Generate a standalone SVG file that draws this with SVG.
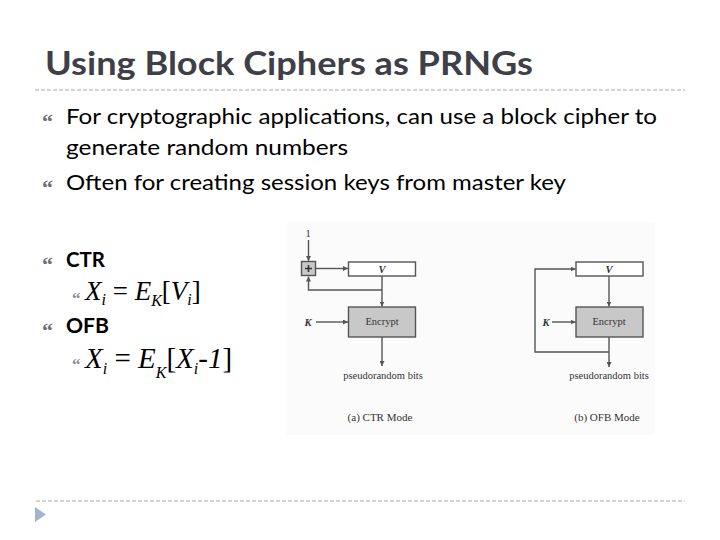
<svg xmlns="http://www.w3.org/2000/svg" width="720" height="540" viewBox="0 0 720 540">
<defs>
<style>
.title{font-family:Lato,"Open Sans","Liberation Sans",sans-serif;font-weight:bold;font-size:33px;fill:#3f3f48}
.body{font-family:Lato,"Open Sans","Liberation Sans",sans-serif;font-size:21px;fill:#000}
.bold{font-weight:bold}
.bul{font-family:"Liberation Serif",serif;font-weight:bold;font-size:22px;fill:#6e6e7a}
.bul2{font-family:"Liberation Serif",serif;font-weight:bold;font-size:17px;fill:#8a8a96}
.math{font-family:"Liberation Serif",serif;font-style:italic;font-size:27px;fill:#000}
.sub{font-size:16px}
.dash{stroke:#a8a8a8;stroke-width:1;stroke-dasharray:4 2;fill:none}
.ln{stroke:#555;stroke-width:1.4;fill:none}
.box{stroke:#555;stroke-width:1.4}
.dt{font-family:"Liberation Serif",serif;font-size:10.5px;fill:#333;text-anchor:middle}
.cap{font-family:"Liberation Serif",serif;font-size:11px;fill:#333;text-anchor:middle}
.var{font-family:"Liberation Serif",serif;font-style:italic;font-weight:bold;font-size:10.5px;fill:#333;text-anchor:middle}
</style>
<marker id="ah" viewBox="0 0 10 10" refX="10" refY="5" markerWidth="5" markerHeight="5" orient="auto" markerUnits="userSpaceOnUse">
<path d="M0,0 L10,5 L0,10 z" fill="#555"/>
</marker>
</defs>
<rect width="720" height="540" fill="#fff"/>
<g id="header">
<text class="title" x="45" y="75" textLength="488" lengthAdjust="spacingAndGlyphs">Using Block Ciphers as PRNGs</text>
<line class="dash" x1="35" y1="90" x2="685" y2="90"/>
</g>
<g id="bullets">
<text class="bul" x="42" y="129">“</text>
<text class="body" x="66" y="124" textLength="591" lengthAdjust="spacingAndGlyphs">For cryptographic applications, can use a block cipher to</text>
<text class="body" x="66" y="155" textLength="282" lengthAdjust="spacingAndGlyphs">generate random numbers</text>
<text class="bul" x="42" y="195">“</text>
<text class="body" x="66" y="190" textLength="500" lengthAdjust="spacingAndGlyphs">Often for creating session keys from master key</text>
<text class="bul" x="42" y="272">“</text>
<text class="body bold" x="66" y="267" textLength="39" lengthAdjust="spacingAndGlyphs">CTR</text>
<text class="bul2" x="72" y="304">“</text>
<text class="math" x="85" y="300">X<tspan class="sub" dy="5">i</tspan><tspan dy="-5" style="font-style:normal"> = </tspan>E<tspan class="sub" dy="6">K</tspan><tspan dy="-6" style="font-style:normal">[</tspan>V<tspan class="sub" dy="5">i</tspan><tspan dy="-5" style="font-style:normal">]</tspan></text>
<text class="bul" x="42" y="338">“</text>
<text class="body bold" x="66" y="333" textLength="43" lengthAdjust="spacingAndGlyphs">OFB</text>
<text class="bul2" x="72" y="370">“</text>
<text class="math" x="85" y="368" style="font-size:29px">X<tspan class="sub" dy="6">i</tspan><tspan dy="-6" style="font-style:normal"> = </tspan>E<tspan class="sub" dy="10">K</tspan><tspan dy="-10" style="font-style:normal">[</tspan>X<tspan class="sub" dy="6">i</tspan><tspan dy="-6">-1</tspan><tspan style="font-style:normal">]</tspan></text>
</g>
<rect x="287" y="222" width="368" height="213" fill="#fbfbfb"/>
<g id="ctr-one"><text class="dt" x="308" y="237">1</text></g>
<g id="ctr-plus"><rect class="box" x="301.5" y="261.5" width="14" height="14" fill="#c8c8c8"/><path d="M305,268.5 H312 M308.5,265 V272" stroke="#333" stroke-width="1.6"/></g>
<g id="ctr-v"><rect class="box" x="348.5" y="262" width="67" height="14" fill="#fff"/><text class="var" x="382" y="272.5">V</text></g>
<g id="ctr-encrypt"><rect class="box" x="348.5" y="307" width="67" height="30" fill="#c8c8c8"/><text class="dt" x="382" y="325">Encrypt</text></g>
<g id="ctr-k"><text class="var" x="308" y="325.5">K</text></g>
<g id="ctr-out"><text class="dt" x="383" y="379">pseudorandom bits</text></g>
<g id="ctr-caption"><text class="cap" x="380" y="421">(a) CTR Mode</text></g>
<g id="ofb-v"><rect class="box" x="576" y="262" width="67" height="14" fill="#fff"/><text class="var" x="609" y="272.5">V</text></g>
<g id="ofb-encrypt"><rect class="box" x="576" y="307" width="67" height="30" fill="#c8c8c8"/><text class="dt" x="609" y="325">Encrypt</text></g>
<g id="ofb-k"><text class="var" x="546" y="325.5">K</text></g>
<g id="ofb-out"><text class="dt" x="609" y="379">pseudorandom bits</text></g>
<g id="ofb-caption"><text class="cap" x="607" y="421">(b) OFB Mode</text></g>
<g id="connectors">
<line class="ln" x1="308.5" y1="240" x2="308.5" y2="261" marker-end="url(#ah)"/>
<line class="ln" x1="316" y1="268.5" x2="348" y2="268.5" marker-end="url(#ah)"/>
<line class="ln" x1="382" y1="276" x2="382" y2="306.5" marker-end="url(#ah)"/>
<polyline class="ln" points="382,290 308.5,290 308.5,276.5" marker-end="url(#ah)"/>
<line class="ln" x1="316" y1="322" x2="348" y2="322" marker-end="url(#ah)"/>
<line class="ln" x1="382" y1="337" x2="382" y2="366" marker-end="url(#ah)"/>
<line class="ln" x1="609" y1="276" x2="609" y2="306.5" marker-end="url(#ah)"/>
<line class="ln" x1="552" y1="322" x2="575.5" y2="322" marker-end="url(#ah)"/>
<line class="ln" x1="609" y1="337" x2="609" y2="367" marker-end="url(#ah)"/>
<polyline class="ln" points="609,352 535,352 535,269 575.5,269" marker-end="url(#ah)"/>
</g>
<g id="footer">
<line class="dash" x1="36" y1="501" x2="685" y2="501"/>
<polygon points="35,507 46,514.5 35,522" fill="#a3b5cc"/>
</g>
</svg>
